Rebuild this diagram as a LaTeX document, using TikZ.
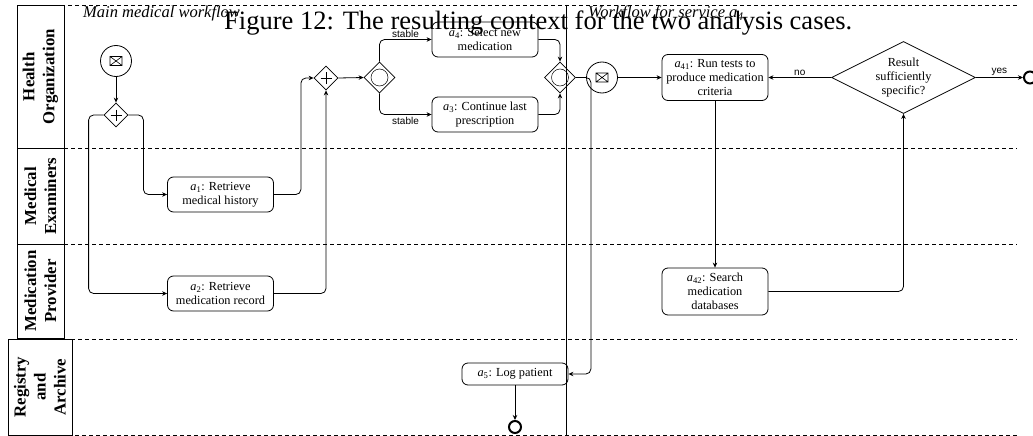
\documentclass[tikz,border=0pt]{standalone}
\usepackage{fontspec}
\setmainfont{Liberation Serif}
\setsansfont{Liberation Sans}
\usetikzlibrary{shapes.geometric,arrows.meta}

\newcommand\taskfont{\fontsize{12.3}{14}\selectfont}
\newcommand\lanefont{\bfseries\fontsize{16.8}{20}\selectfont}
\newcommand\act[1]{\textit{a}\textsubscript{#1}}

\tikzset{
  task/.style={draw, rounded corners=6pt, line width=0.8pt, minimum width=106pt,
    minimum height=35pt, align=center, font=\taskfont, inner sep=1pt},
  lanebox/.style={draw, line width=0.8pt, rotate=90, align=center, font=\lanefont, inner sep=0pt},
  lanesep/.style={line width=0.6pt, dash pattern=on 4pt off 3pt},
  pargw/.style={draw, diamond, minimum size=24pt, inner sep=0pt, line width=0.8pt},
  orgw/.style={draw, diamond, minimum size=31pt, inner sep=0pt, line width=0.8pt},
  decision/.style={draw, diamond, aspect=2, minimum width=144pt, minimum height=72pt,
    inner sep=0pt, line width=0.8pt, align=center, font=\taskfont},
  msgevent/.style={draw, circle, minimum size=31pt, inner sep=0pt, line width=0.8pt},
  endevent/.style={draw, circle, minimum size=12pt, inner sep=0pt, line width=2pt},
  flow/.style={draw, line width=0.8pt, -{Stealth[length=5pt,width=4.5pt]}, rounded corners=5pt},
  lbl/.style={font=\sffamily\fontsize{10}{12}\selectfont, inner sep=2pt},
  envelope/.pic={\draw[line width=0.6pt] (-6,-4.5) rectangle (6,4.5)
      (-6,-4.5) -- (6,4.5) (-6,4.5) -- (6,-4.5);},
  plussign/.pic={\draw[line width=0.6pt] (-5.5,0) -- (5.5,0) (0,-5.5) -- (0,5.5);},
}

\begin{document}
\begin{tikzpicture}[x=1pt, y=-1pt]
\useasboundingbox (0,0) rectangle (1033,436);

% lane separators and pool divider
\draw[lanesep] (40,5) -- (1017,5);
\draw[lanesep] (64,148.5) -- (1017,148.5);
\draw[lanesep] (64,244) -- (1017,244);
\draw[lanesep] (8,339) -- (1017,339);
\draw[lanesep] (40,435) -- (1017,435);
\draw[line width=0.8pt] (566,5) -- (566,435);

% lane headers
\node[lanebox, minimum width=143pt, minimum height=47pt] (laneHO) at (40.5,76.75) {Health\\Organization};
\node[lanebox, minimum width=95.5pt, minimum height=47pt] (laneME) at (40.5,196.25) {Medical\\Examiners};
\node[lanebox, minimum width=94pt, minimum height=47pt] (laneMP) at (40.5,291) {Medication\\Provider};
\node[lanebox, minimum width=96pt, minimum height=64pt] (laneRA) at (40,387) {Registry\\and\\Archive};

% pool titles
\node[anchor=base west, inner sep=0pt, font=\itshape\fontsize{16.5}{18}\selectfont] (titleL) at (83,18) {Main medical workflow};
\node[anchor=base west, inner sep=0pt, font=\itshape\fontsize{16.5}{18}\selectfont] (titleR) at (588,18) {Workflow for service \act{4}};

% main workflow
\node[msgevent] (start) at (116,61) {};
\pic at (start.center) {envelope};
\node[pargw] (g1) at (116,115) {};
\pic at (g1.center) {plussign};
\node[task] (a1) at (220.5,194.5) {\act{1}: Retrieve\\medical history};
\node[task] (a2) at (220.5,293.5) {\act{2}: Retrieve\\medication record};
\node[pargw] (g2) at (326,78) {};
\pic at (g2.center) {plussign};
\node[orgw] (g3) at (379.5,77.5) {};
\draw[line width=0.5pt] (g3.center) circle[radius=8.5];
\node[task] (a4) at (485,39.5) {\act{4}: Select new\\medication};
\node[task] (a3) at (485,114.5) {\act{3}: Continue last\\prescription};
\node[orgw] (g4) at (560,77.5) {};
\draw[line width=0.5pt] (g4.center) circle[radius=8.5];
\node[task, minimum height=22pt] (a5) at (515,374) {\act{5}: Log patient};
\node[endevent] (end5) at (515,427) {};

\draw[flow] (start) -- (g1);
\draw[flow] (g1.west) -- ++(-15,0) |- (a2.west);
\draw[flow] (g1.east) -- ++(15,0) |- (a1.west);
\draw[flow] (a1.east) -- ++(27,0) |- (g2.west);
\draw[flow] (a2.east) -| (g2.south);
\draw[flow] (g2.east) -- (g3.west);
\draw[flow] (g3.north) |- (a4.west) node[lbl, pos=0.75, above] {stable};
\draw[flow] (g3.south) |- (a3.west) node[lbl, pos=0.75, below] {stable};
\draw[flow] (a4.east) -| (g4.north);
\draw[flow] (a3.east) -| (g4.south);
\draw[flow] (g4.east) -- ++(15,0) |- (a5.east);
\draw[flow] (a5) -- (end5);

% service workflow
\node[msgevent] (msg) at (602,77.5) {};
\pic at (msg.center) {envelope};
\node[task, minimum height=46pt] (a41) at (715,77.5) {\act{41}: Run tests to\\produce medication\\criteria};
\node[task, minimum height=47pt] (a42) at (715,291.5) {\act{42}: Search\\medication\\databases};
\node[decision] (dec) at (903.5,77.5) {Result\\sufficiently\\specific?};
\node[endevent] (endR) at (1030,77.5) {};

\draw[flow] (msg) -- (a41);
\draw[flow] (dec.west) -- (a41.east) node[lbl, midway, above] {no};
\draw[flow] (dec.east) -- (endR) node[lbl, midway, above] {yes};
\draw[flow] (a41) -- (a42);
\draw[flow] (a42.east) -| (dec.south);

% caption
\node[anchor=base west, inner sep=0pt] (caption) at (224,30)
  {\resizebox{628pt}{!}{\fontsize{24}{28}\selectfont Figure 12: The resulting context for the two analysis cases.}};
\end{tikzpicture}
\end{document}
